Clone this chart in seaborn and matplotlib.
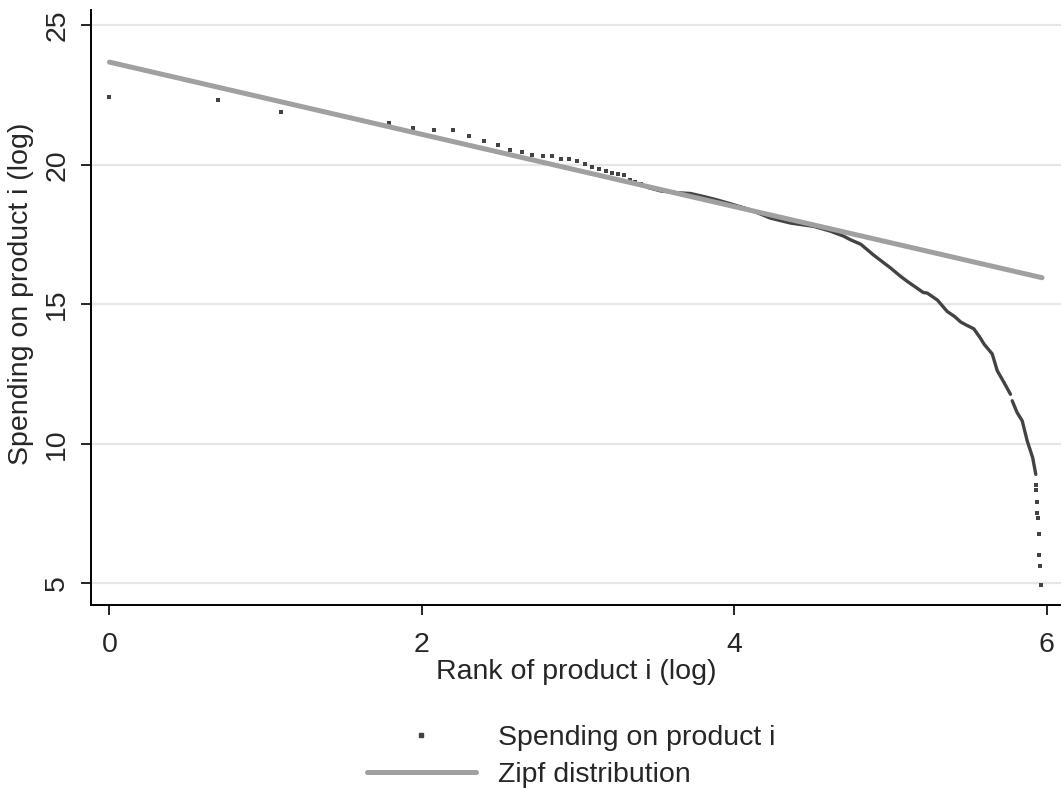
import numpy as np
import pandas as pd
import matplotlib
matplotlib.use("Agg")
import matplotlib.pyplot as plt
from matplotlib.lines import Line2D
import seaborn as sns

# top products: log rank and log spending, one dot each
head_rank_log = [0.000, 0.693, 1.099, 1.386, 1.609, 1.792, 1.946, 2.079, 2.197, 2.303,
                 2.398, 2.485, 2.565, 2.639, 2.708, 2.773, 2.833, 2.890, 2.944, 2.996,
                 3.045, 3.091, 3.135, 3.178, 3.219, 3.258, 3.296, 3.332, 3.367, 3.401]
head_spend_log = [22.42, 22.32, 21.90, 21.88, 21.60, 21.50, 21.32, 21.26, 21.26, 21.02,
                  20.86, 20.72, 20.52, 20.46, 20.36, 20.30, 20.30, 20.20, 20.20, 20.15,
                  20.02, 19.92, 19.86, 19.79, 19.70, 19.67, 19.62, 19.46, 19.38, 19.30]

# dense tail (dots merge into a line)
tail_rank_log = [3.401, 3.45, 3.53, 3.63, 3.72, 3.805, 3.89, 3.976, 4.10, 4.23,
                 4.36, 4.51, 4.615, 4.70, 4.744, 4.81, 4.89, 5.00, 5.06, 5.107,
                 5.21, 5.235, 5.30, 5.363, 5.41, 5.45, 5.49, 5.533, 5.576, 5.60,
                 5.651, 5.683, 5.726, 5.768]
tail_spend_log = [19.30, 19.18, 19.06, 19.00, 18.97, 18.86, 18.74, 18.60, 18.39, 18.09,
                  17.91, 17.79, 17.62, 17.44, 17.31, 17.15, 16.77, 16.30, 16.02, 15.82,
                  15.42, 15.40, 15.15, 14.74, 14.56, 14.36, 14.24, 14.12, 13.78, 13.56,
                  13.22, 12.62, 12.20, 11.77]
tail2_rank_log = [5.779, 5.81, 5.843, 5.875, 5.91, 5.93]
tail2_spend_log = [11.54, 11.12, 10.82, 10.10, 9.50, 8.90]

# last few products, separate dots again
end_rank_log = [5.932, 5.934, 5.936, 5.940, 5.942, 5.950, 5.952, 5.960, 5.962]
end_spend_log = [8.53, 8.35, 7.92, 7.50, 7.32, 6.78, 6.00, 5.60, 4.94]

# fitted Zipf line
zipf_rank_log = [0.0, 5.97]
zipf_spend_log = [23.68, 15.95]

xticks = [0, 2, 4, 6]
yticks = [5, 10, 15, 20, 25]

sns.set_style("white")
plt.rcParams["font.family"] = ["Liberation Sans", "DejaVu Sans"]

dark = "#434343"
grey = "#a0a0a0"

fig = plt.figure(figsize=(10.61, 7.88), dpi=100)
ax = fig.add_axes([0.0858, 0.232, 0.914, 0.755])

for y in yticks:
    ax.axhline(y, color="#e6e6e6", lw=1.6, zorder=0)

dots = pd.DataFrame({"x": head_rank_log + end_rank_log,
                     "y": head_spend_log + end_spend_log})
sns.scatterplot(data=dots, x="x", y="y", ax=ax, marker="s", s=6,
                color=dark, edgecolor=dark, linewidth=0, zorder=2)

sns.lineplot(x=tail_rank_log, y=tail_spend_log, ax=ax, color=dark, lw=2.4,
             sort=False, estimator=None, zorder=2)
sns.lineplot(x=tail2_rank_log, y=tail2_spend_log, ax=ax, color=dark, lw=2.4,
             sort=False, estimator=None, zorder=2)
sns.lineplot(x=zipf_rank_log, y=zipf_spend_log, ax=ax, color=grey, lw=3.6, zorder=3)

ax.set_xlim(-0.118, 6.09)
ax.set_ylim(4.21, 25.54)
ax.set_xticks(xticks)
ax.set_yticks(yticks)
ax.tick_params(axis="both", direction="out", length=7, width=1.2, color="black",
               labelsize=20.5, left=True, bottom=True)
ax.tick_params(axis="x", pad=12)
ax.tick_params(axis="y", pad=8)
for lab in ax.get_yticklabels():
    lab.set_rotation(90)
    lab.set_va("center")

for side in ["top", "right"]:
    ax.spines[side].set_visible(False)
for side in ["left", "bottom"]:
    ax.spines[side].set_color("black")
    ax.spines[side].set_linewidth(1.4)

ax.set_xlabel("Rank of product i (log)", fontsize=20.5)
ax.set_ylabel("Spending on product i (log)", fontsize=20.5)
ax.xaxis.set_label_coords(0.5, -0.091)
ax.yaxis.set_label_coords(-0.059, 0.523)

handles = [Line2D([], [], ls="none", marker="s", ms=2.2, color=dark),
           Line2D([], [], color=grey, lw=3.6)]
fig.legend(handles, ["Spending on product i", "Zipf distribution"],
           loc="center", bbox_to_anchor=(0.538, 0.040), frameon=False,
           fontsize=20.5, handlelength=3.85, labelspacing=0.36, handletextpad=0.75)

fig.savefig("out.png", dpi=100)
